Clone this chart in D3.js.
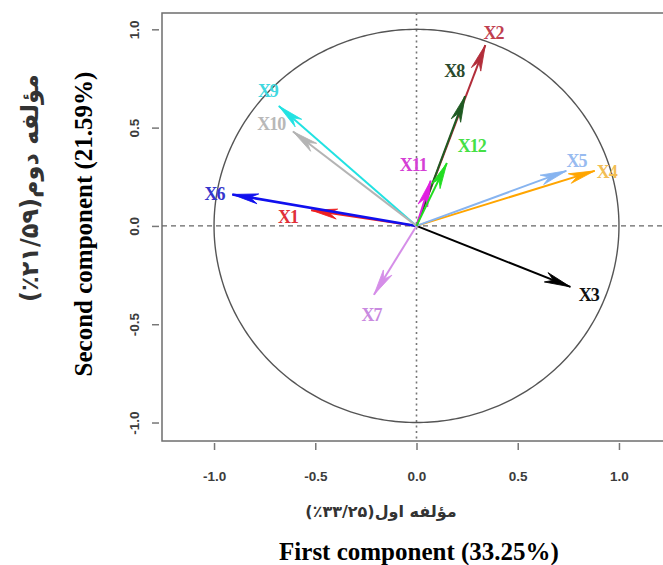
<!DOCTYPE html>
<html>
<head>
<meta charset="utf-8">
<script src="https://cdn.jsdelivr.net/npm/d3@7"></script>
<style>
  body { margin: 0; background: #fff; }
  svg { display: block; }
</style>
</head>
<body>
<svg id="main"></svg>
<script>
// PCA variable loadings (circle of correlations)
var varNames = ["X1", "X2", "X3", "X4", "X5", "X6", "X7", "X8", "X9", "X10", "X11", "X12"];
var dim1 = [-0.52, 0.34, 0.76, 0.88, 0.74, -0.91, -0.21, 0.24, -0.68, -0.61, 0.07, 0.15];
var dim2 = [0.08, 0.92, -0.31, 0.28, 0.28, 0.16, -0.35, 0.66, 0.61, 0.48, 0.23, 0.32];
// where each label sits (same units)
var labDim1 = [-0.635, 0.38, 0.851, 0.94, 0.79, -0.998, -0.222, 0.186, -0.734, -0.717, -0.016, 0.273];
var labDim2 = [0.046, 0.983, -0.352, 0.275, 0.334, 0.165, -0.454, 0.788, 0.69, 0.521, 0.309, 0.41];
var varColors = ["#ee2020", "#b22d3a", "#000000", "#ffa500", "#87b4f0", "#1010ee",
                 "#d58ee8", "#1f5a22", "#22e2e2", "#b4b4b4", "#e020e0", "#22dd22"];
var labColors = ["#e03038", "#c04050", "#111111", "#f2be55", "#98bbf0", "#3535cc",
                 "#c98ae0", "#2b4a2c", "#40d8e0", "#b8b8b8", "#d53ed5", "#45e045"];
var tickVals = [-1, -0.5, 0, 0.5, 1];
var xTitleEn = "First component (33.25%)";
var yTitleEn = "Second component (21.59%)";
// number part kept in its own left-to-right run so the percent sign sits on its left
var xTitleFa = "مؤلفه اول(\u2066٪۳۳/۲۵\u2069)";
var yTitleFa = "مؤلفه دوم(\u2066٪۲۱/۵۹\u2069)";

var W = 663, H = 565;
var box = {l: 162, r: 671, t: 13, b: 441};

var x = d3.scaleLinear().domain([-1.257, 1.257]).range([box.l, box.r]);
var y = d3.scaleLinear().domain([-1.094, 1.083]).range([box.b, box.t]);

var s = d3.select("#main").attr("width", W).attr("height", H);

// frame
s.append("rect")
  .attr("x", box.l).attr("y", box.t)
  .attr("width", box.r - box.l).attr("height", box.b - box.t)
  .attr("fill", "none").attr("stroke", "#6e6e6e").attr("stroke-width", 1.5);

// reference lines
s.append("line")
  .attr("x1", box.l).attr("x2", box.r).attr("y1", y(0)).attr("y2", y(0))
  .attr("stroke", "#666").attr("stroke-width", 1.3).attr("stroke-dasharray", "5,4");
s.append("line")
  .attr("x1", x(0)).attr("x2", x(0)).attr("y1", box.t).attr("y2", box.b)
  .attr("stroke", "#777").attr("stroke-width", 1.6).attr("stroke-dasharray", "2,3.5");

// unit circle
var circ = d3.line()
  .x(function(a) { return x(Math.cos(a * Math.PI / 180)); })
  .y(function(a) { return y(Math.sin(a * Math.PI / 180)); });
s.append("path")
  .datum(d3.range(0, 361))
  .attr("d", circ)
  .attr("fill", "none").attr("stroke", "#555").attr("stroke-width", 1.4);

// axes
var fmt = function(d) { return d.toFixed(1); };
var gx = s.append("g")
  .attr("transform", "translate(0," + (box.b + 2) + ")")
  .call(d3.axisBottom(x).tickValues(tickVals).tickFormat(fmt).tickSize(7).tickPadding(21).tickSizeOuter(0));
var gy = s.append("g")
  .attr("transform", "translate(" + (box.l - 3) + ",0)")
  .call(d3.axisLeft(y).tickValues(tickVals).tickFormat(fmt).tickSize(7).tickSizeOuter(0));
[gx, gy].forEach(function(g) {
  g.select(".domain").remove();
  g.selectAll(".tick line").attr("stroke", "#777").attr("stroke-width", 1.5);
  g.selectAll(".tick text")
    .attr("fill", "#3c3c3c")
    .style("font-family", "'Liberation Sans', Arial, sans-serif")
    .style("font-weight", "bold")
    .style("font-size", "13.5px");
});
gy.selectAll(".tick text")
  .attr("x", null).attr("dy", "0.35em")
  .attr("text-anchor", "middle")
  .attr("transform", "translate(-25,0) rotate(-90)");

// arrows
var vars = varNames.map(function(n, i) {
  return {name: n, px: dim1[i], py: dim2[i], lx: labDim1[i], ly: labDim2[i], col: varColors[i], lcol: labColors[i]};
});

var ga = s.append("g");
vars.forEach(function(d) {
  var x1 = x(d.px), y1 = y(d.py);
  var ang = Math.atan2(y1 - y(0), x1 - x(0)) * 180 / Math.PI;
  var sw = d.name == "X6" ? 2.6 : 2;
  ga.append("line")
    .attr("x1", x(0)).attr("y1", y(0)).attr("x2", x1).attr("y2", y1)
    .attr("stroke", d.col).attr("stroke-width", sw);
  ga.append("path")
    .attr("d", "M0,0 L-26,-5 L-18,0 L-26,5 Z")
    .attr("transform", "translate(" + x1 + "," + y1 + ") rotate(" + ang + ")")
    .attr("fill", d.col).attr("stroke", d.col).attr("stroke-width", 0.8);
});

// labels
s.append("g").selectAll("text")
  .data(vars).enter()
  .append("text")
  .attr("x", function(d) { return x(d.lx); })
  .attr("y", function(d) { return y(d.ly); })
  .attr("dy", "0.35em")
  .attr("text-anchor", "middle")
  .attr("fill", function(d) { return d.lcol; })
  .style("font-family", "'Liberation Serif', 'Times New Roman', serif")
  .style("font-weight", "bold")
  .style("font-size", "18px")
  .style("letter-spacing", "-1px")
  .text(function(d) { return d.name; });

// titles
s.append("text")
  .attr("x", 419).attr("y", 551).attr("dy", "0.35em")
  .attr("text-anchor", "middle")
  .style("font-family", "'Liberation Serif', 'Times New Roman', serif")
  .style("font-weight", "bold").style("font-size", "25px")
  .text(xTitleEn);
s.append("text")
  .attr("transform", "translate(83,224) rotate(-90)")
  .attr("dy", "0.35em")
  .attr("text-anchor", "middle")
  .style("font-family", "'Liberation Serif', 'Times New Roman', serif")
  .style("font-weight", "bold").style("font-size", "25px")
  .text(yTitleEn);
s.append("text")
  .attr("x", 381).attr("y", 511).attr("dy", "0.35em")
  .attr("text-anchor", "middle").attr("direction", "rtl")
  .attr("fill", "#333")
  .style("font-family", "'DejaVu Sans', sans-serif")
  .style("font-weight", "bold").style("font-size", "16px")
  .text(xTitleFa);
s.append("text")
  .attr("transform", "translate(30,188) rotate(-90)")
  .attr("dy", "0.35em")
  .attr("text-anchor", "middle").attr("direction", "rtl")
  .attr("fill", "#333")
  .style("font-family", "'DejaVu Sans', sans-serif")
  .style("font-weight", "bold").style("font-size", "24px")
  .text(yTitleFa);
</script>
</body>
</html>
